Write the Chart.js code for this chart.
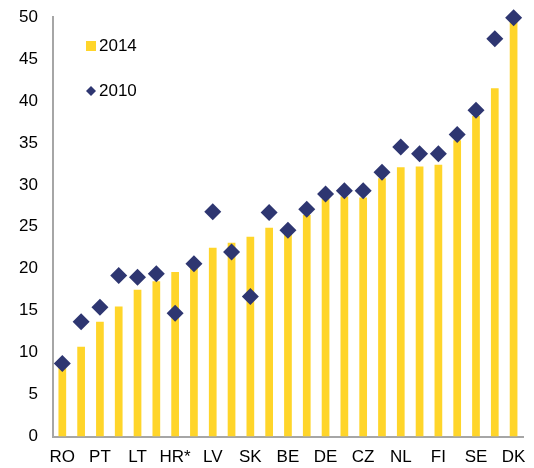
<!DOCTYPE html>
<html>
<head>
<meta charset="utf-8">
<script src="https://cdn.jsdelivr.net/npm/chart.js@4/dist/chart.umd.min.js"></script>
<style>
  html, body { margin: 0; padding: 0; background: #fff; }
  #box { width: 534px; height: 468px; }
</style>
</head>
<body>
<div id="box"><canvas id="cvs_grafico"></canvas></div>
<script>
// dados
var paises = ["RO", "BG", "PT", "PL", "LT", "HU", "HR*", "SI", "LV", "EE", "SK", "IE", "BE",
  "IT", "DE", "ES", "CZ", "AT", "NL", "UK", "FI", "FR", "SE", "LU", "DK"];
var valores2014 = [8.3, 10.7, 13.7, 15.5, 17.5, 18.5, 19.6, 20.2, 22.5, 23.1, 23.8, 24.9, 24.2,
  26.4, 28.3, 28.6, 28.5, 30.8, 32.1, 32.2, 32.4, 35.3, 38.2, 41.5, 49.5];
var valores2010 = [8.7, 13.7, 15.4, 19.2, 19.0, 19.4, 14.7, 20.6, 26.8, 22.0, 16.7, 26.7, 24.6,
  27.1, 28.9, 29.3, 29.3, 31.5, 34.5, 33.7, 33.7, 36.0, 38.9, 47.4, 49.9];
var ticksY = [0, 5, 10, 15, 20, 25, 30, 35, 40, 45, 50];

var amarelo = "#FFD52A";
var azul = "#2E3671";
var fonte = { family: "'Liberation Sans', Arial, sans-serif", size: 17 };

// legenda desenhada dentro da área do gráfico
var legendaInterna = {
  id: "legendaInterna",
  afterDatasetsDraw: function (chart) {
    var ctx = chart.ctx;
    var barras = chart.data.datasets[1];
    var pontos = chart.data.datasets[0];
    ctx.save();
    ctx.font = "17px " + fonte.family;
    ctx.textBaseline = "middle";
    ctx.fillStyle = barras.backgroundColor;
    ctx.fillRect(86, 41, 10, 10);
    ctx.fillStyle = "#000";
    ctx.fillText(barras.label, 99, 46.5);

    ctx.fillStyle = pontos.backgroundColor;
    ctx.beginPath();
    ctx.moveTo(91, 86);
    ctx.lineTo(96, 91);
    ctx.lineTo(91, 96);
    ctx.lineTo(86, 91);
    ctx.closePath();
    ctx.fill();
    ctx.fillStyle = "#000";
    ctx.fillText(pontos.label, 99, 91.5);
    ctx.restore();
  },
};

new Chart(document.getElementById("cvs_grafico"), {
  type: "bar",
  data: {
    labels: paises,
    datasets: [
      {
        type: "line",
        label: "2010",
        data: valores2010,
        showLine: false,
        clip: false,
        pointStyle: "rectRot",
        pointRadius: 8.5,
        pointHoverRadius: 8.5,
        backgroundColor: azul,
        borderColor: azul,
        borderWidth: 0,
        order: 0,
      },
      {
        label: "2014",
        data: valores2014,
        backgroundColor: amarelo,
        borderWidth: 0,
        barPercentage: 0.41,
        categoryPercentage: 1,
        order: 1,
      },
    ],
  },
  options: {
    responsive: true,
    maintainAspectRatio: false,
    animation: false,
    layout: { autoPadding: false, padding: { top: 17, right: 11, left: 4, bottom: -11 } },
    plugins: {
      legend: { display: false },
      tooltip: { enabled: false },
    },
    scales: {
      x: {
        afterFit: function (escala) {
          escala.paddingRight = 0;
        },
        grid: { display: false, drawTicks: false },
        border: { display: true, color: "#A6A6A6", width: 2 },
        ticks: {
          autoSkip: false,
          maxRotation: 0,
          padding: 11,
          color: "#000",
          font: fonte,
          callback: function (valor, indice) {
            return indice % 2 === 0 ? this.getLabelForValue(valor) : "";
          },
        },
      },
      y: {
        min: 0,
        max: 50,
        afterBuildTicks: function (escala) {
          escala.ticks = ticksY.map(function (v) { return { value: v }; });
        },
        afterFit: function (escala) {
          // o padding dos ticks não deve empurrar a área para baixo
          escala.paddingTop = 10;
          escala.paddingBottom = 10;
        },
        grid: { display: false, drawTicks: false },
        border: { display: true, color: "#A6A6A6", width: 2 },
        ticks: {
          padding: 15,
          color: "#000",
          font: fonte,
        },
      },
    },
  },
  plugins: [legendaInterna],
});
</script>
</body>
</html>
